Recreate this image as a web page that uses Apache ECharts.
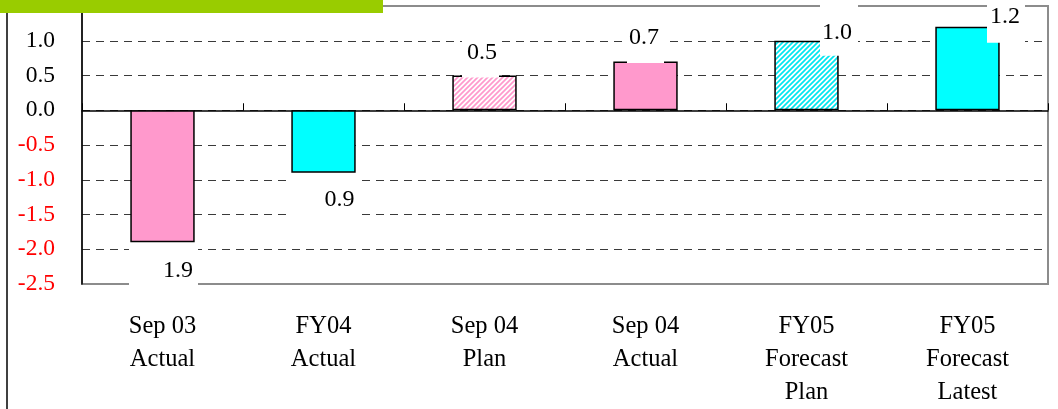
<!DOCTYPE html>
<html>
<head>
<meta charset="utf-8">
<script src="https://cdn.jsdelivr.net/npm/echarts@6/dist/echarts.min.js"></script>
<style>
html,body{margin:0;padding:0;background:#fff;}
#c{width:1058px;height:409px;}
</style>
</head>
<body>
<div id="c"></div>
<script>
// ---- data ----
const categories = ['Sep 03\nActual', 'FY04\nActual', 'Sep 04\nPlan', 'Sep 04\nActual', 'FY05\nForecast\nPlan', 'FY05\nForecast\nLatest'];
const values = [-1.9, -0.9, 0.5, 0.7, 1.0, 1.2];
const yMin = -2.5, yMax = 1.5, yStep = 0.5;

// ---- styles (kept separate from data) ----
const fills = ['pink', 'cyan', 'pinkHatch', 'pink', 'cyanHatch', 'cyan'];
const labelStyles = [
  {position: 'bottom', distance: 3, offset: [1, 0], padding: [14, 5, 7, 34]},
  {position: 'bottom', distance: 3, offset: [1, 0], padding: [12, 4, 11, 34]},
  {position: 'top', distance: 0, offset: [-4, 2], padding: [3, 2, 13, 5]},
  {position: 'top', distance: 0, offset: [0, 1.5], padding: [2, 5, 14, 2]},
  {position: 'top', distance: 0, offset: [32.5, 15], padding: [16, 6, 12, 2]},
  {position: 'top', distance: 0, offset: [38.5, 16], padding: [1, 5, 15, 3]}
];

function hatch(color) {
  const s = 5;
  const cv = document.createElement('canvas');
  cv.width = s; cv.height = s;
  const g = cv.getContext('2d');
  g.fillStyle = '#fff'; g.fillRect(0, 0, s, s);
  g.strokeStyle = color; g.lineWidth = 1.7;
  g.beginPath();
  g.moveTo(-1, s + 1); g.lineTo(s + 1, -1);
  g.moveTo(-1, 1); g.lineTo(1, -1);
  g.moveTo(s - 1, s + 1); g.lineTo(s + 1, s - 1);
  g.stroke();
  return {image: cv, repeat: 'repeat'};
}
const palette = {
  pink: '#ff99cc',
  cyan: '#00ffff',
  pinkHatch: hatch('#ff99cc'),
  cyanHatch: hatch('#00e6f0')
};

const FONT = 'Liberation Serif';
const chart = echarts.init(document.getElementById('c'), null, {renderer: 'canvas'});

const nTicks = Math.round((yMax - yMin) / yStep) + 1;
const splitColors = [];
for (let i = 0; i < nTicks; i++) {
  splitColors.push(i === 0 || i === nTicks - 1 ? 'rgba(0,0,0,0)' : '#3a3a3a');
}

chart.setOption({
  animation: false,
  backgroundColor: '#fff',
  grid: {
    left: 82, right: 10, top: 6, bottom: 125,
    containLabel: false, outerBoundsMode: 'none',
    show: true, borderColor: '#8c8c8c', borderWidth: 2, backgroundColor: 'transparent'
  },
  xAxis: [{
    type: 'category',
    data: categories,
    position: 'bottom',
    axisLine: {onZero: true, lineStyle: {color: '#000', width: 1.5}},
    axisTick: {show: true, inside: true, length: 7, alignWithLabel: false, lineStyle: {color: '#000', width: 1}},
    axisLabel: {show: false},
    splitLine: {show: false}
  }, {
    type: 'category',
    data: categories,
    position: 'bottom',
    axisLine: {show: false, onZero: false},
    axisTick: {show: false},
    axisLabel: {
      show: true, margin: 26, interval: 0, hideOverlap: false,
      color: '#000', fontFamily: FONT, fontSize: 24.5, lineHeight: 33
    },
    splitLine: {show: false}
  }],
  yAxis: {
    type: 'value',
    min: yMin, max: yMax, interval: yStep,
    axisLine: {show: true, lineStyle: {color: '#000', width: 1.5}},
    axisTick: {show: false},
    axisLabel: {
      margin: 27, showMaxLabel: true, showMinLabel: true, hideOverlap: false,
      fontFamily: FONT, fontSize: 23.5, padding: [3, 0, 0, 0],
      formatter: v => v.toFixed(1),
      color: v => (v < 0 ? '#ff0000' : '#000000')
    },
    splitLine: {show: true, lineStyle: {color: splitColors, type: [8, 6], width: 1}}
  },
  series: [{
    type: 'bar',
    barWidth: '40%',
    xAxisIndex: 0,
    data: values.map((v, i) => ({
      value: v,
      itemStyle: {color: palette[fills[i]], borderColor: '#000', borderWidth: 1.5},
      label: Object.assign({
        show: true,
        formatter: p => Math.abs(p.value).toFixed(1),
        color: '#000', fontFamily: FONT, fontSize: 24, lineHeight: 23,
        backgroundColor: '#fff'
      }, labelStyles[i])
    }))
  }],
  graphic: [
    {type: 'rect', z: 100, shape: {x: 0, y: 0, width: 383, height: 13}, style: {fill: '#99cc00'}},
    {type: 'line', z: 100, shape: {x1: 7, y1: 13, x2: 7, y2: 409}, style: {stroke: '#000', lineWidth: 1.5}}
  ]
});
</script>
</body>
</html>
